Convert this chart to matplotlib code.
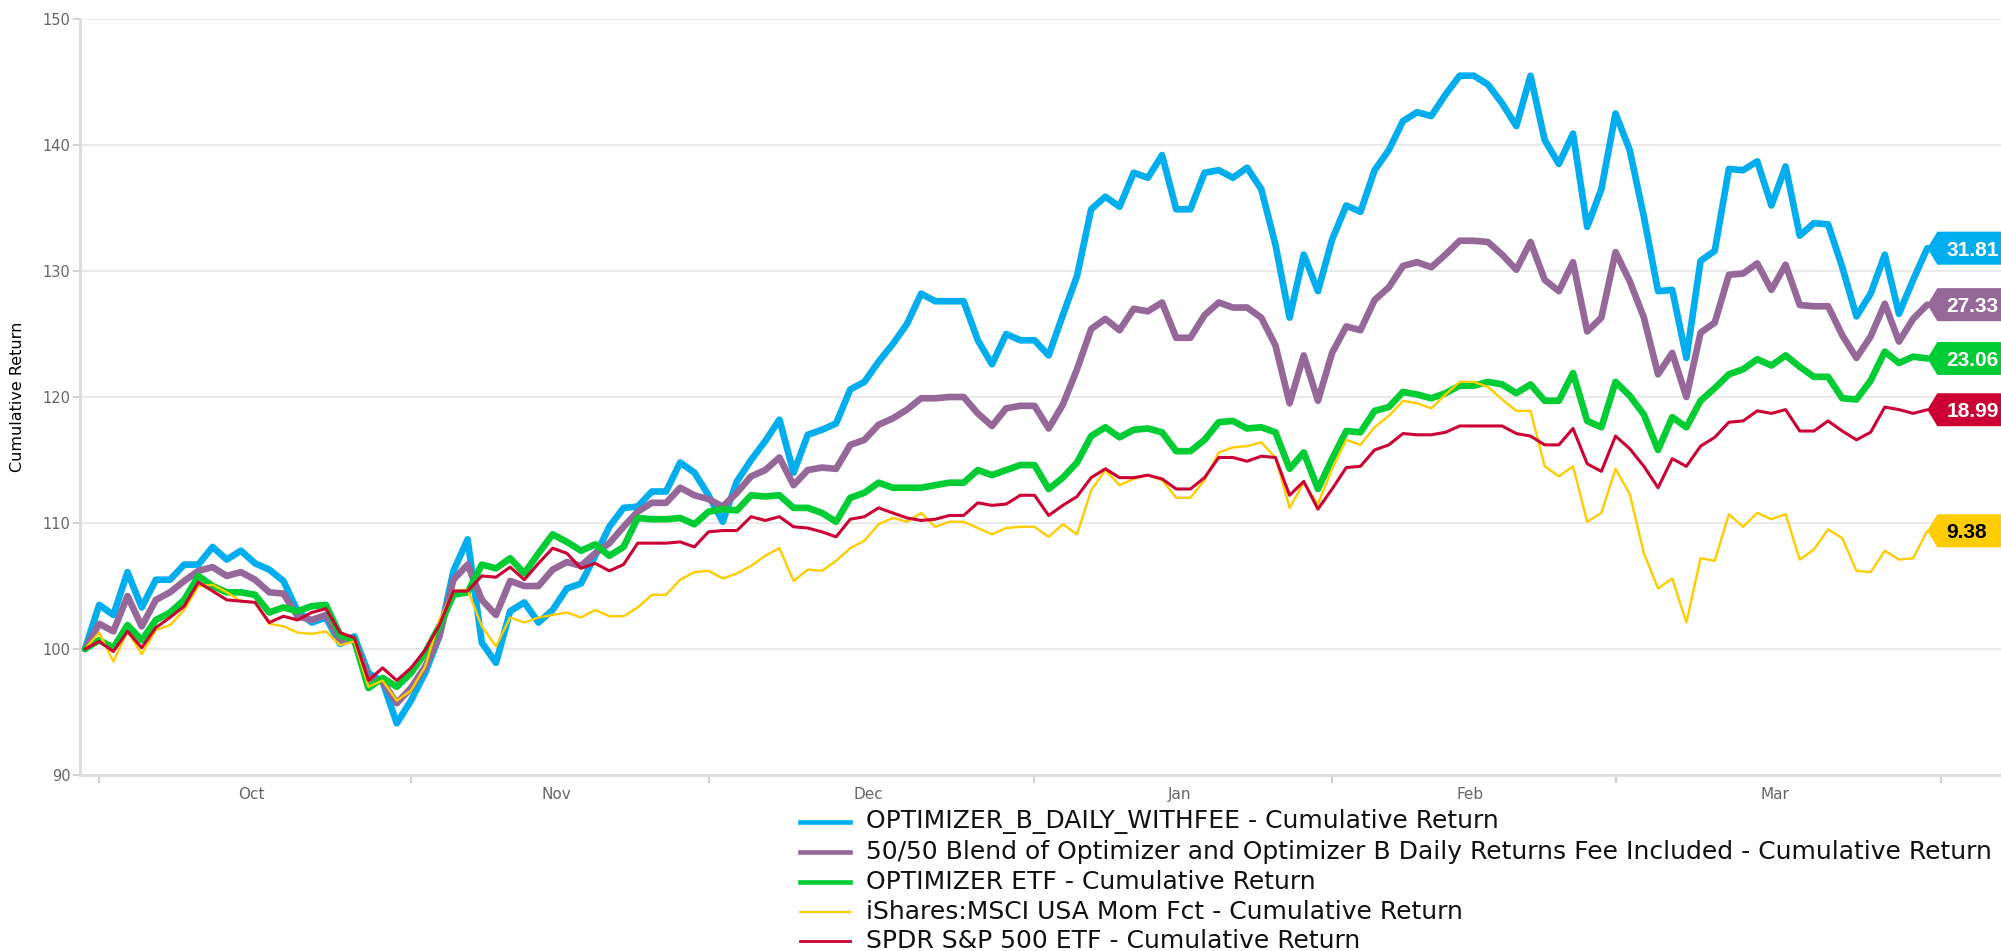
import numpy as np
import matplotlib
matplotlib.use("Agg")
import matplotlib.pyplot as plt
import pandas as pd
from matplotlib.lines import Line2D
from matplotlib.patches import Polygon
from matplotlib.transforms import IdentityTransform
from matplotlib.ticker import NullFormatter

# trading days (weekdays) on an ordinal axis
dates = pd.bdate_range("2020-09-30", "2021-03-31")

optimizer_b = [100.0, 103.5, 102.7, 106.1, 103.3, 105.5, 105.5, 106.7, 106.7, 108.1,
               107.1, 107.8, 106.8, 106.3, 105.4, 103.0, 102.1, 102.5, 100.4, 101.0,
               98.1, 97.4, 94.1, 95.9, 98.1, 101.0, 106.2, 108.7, 100.5, 98.9,
               103.0, 103.7, 102.1, 103.1, 104.8, 105.2, 107.4, 109.7, 111.2, 111.3,
               112.5, 112.5, 114.8, 114.0, 112.2, 110.1, 113.3, 115.0, 116.5, 118.2,
               114.0, 117.0, 117.4, 117.9, 120.6, 121.2, 122.8, 124.2, 125.8, 128.2,
               127.6, 127.6, 127.6, 124.5, 122.6, 125.0, 124.5, 124.5, 123.3, 126.5,
               129.6, 134.9, 135.9, 135.1, 137.8, 137.4, 139.2, 134.9, 134.9, 137.8,
               138.0, 137.4, 138.2, 136.5, 132.1, 126.3, 131.3, 128.4, 132.5, 135.2,
               134.7, 138.0, 139.6, 141.9, 142.6, 142.3, 144.0, 145.5, 145.5, 144.8,
               143.3, 141.5, 145.5, 140.4, 138.5, 140.9, 133.5, 136.5, 142.5, 139.6,
               134.3, 128.4, 128.5, 123.1, 130.8, 131.6, 138.1, 138.0, 138.7, 135.2,
               138.3, 132.8, 133.8, 133.7, 130.3, 126.4, 128.2, 131.3, 126.6, 129.3,
               131.81]

blend = [100.0, 102.0, 101.4, 104.2, 101.8, 103.9, 104.5, 105.4, 106.2, 106.5,
         105.8, 106.1, 105.5, 104.5, 104.4, 102.6, 102.3, 102.7, 100.7, 100.7,
         97.7, 97.4, 95.7, 96.9, 98.6, 101.0, 105.5, 106.7, 103.9, 102.7,
         105.4, 105.0, 105.0, 106.3, 106.9, 106.6, 107.6, 108.4, 109.7, 110.9,
         111.6, 111.6, 112.8, 112.2, 111.9, 111.3, 112.4, 113.7, 114.2, 115.2,
         113.0, 114.2, 114.4, 114.3, 116.2, 116.6, 117.8, 118.3, 119.0, 119.9,
         119.9, 120.0, 120.0, 118.7, 117.7, 119.1, 119.3, 119.3, 117.5, 119.4,
         122.2, 125.4, 126.2, 125.3, 127.0, 126.8, 127.5, 124.7, 124.7, 126.5,
         127.5, 127.1, 127.1, 126.3, 124.1, 119.5, 123.3, 119.7, 123.5, 125.6,
         125.3, 127.7, 128.7, 130.4, 130.7, 130.3, 131.3, 132.4, 132.4, 132.3,
         131.3, 130.1, 132.3, 129.3, 128.4, 130.7, 125.2, 126.3, 131.5, 129.2,
         126.3, 121.8, 123.5, 120.0, 125.1, 125.9, 129.7, 129.8, 130.6, 128.5,
         130.5, 127.3, 127.2, 127.2, 124.9, 123.1, 124.8, 127.4, 124.4, 126.2,
         127.33]

optimizer_etf = [100.0, 100.7, 100.1, 101.9, 100.7, 102.3, 102.9, 103.9, 105.8, 105.0,
                 104.5, 104.5, 104.3, 102.9, 103.3, 103.0, 103.4, 103.5, 101.1, 100.7,
                 96.9, 97.7, 97.0, 98.1, 99.7, 101.8, 104.3, 104.5, 106.7, 106.4,
                 107.2, 106.0, 107.6, 109.1, 108.5, 107.8, 108.3, 107.4, 108.1, 110.4,
                 110.3, 110.3, 110.4, 109.9, 110.9, 111.1, 111.0, 112.2, 112.1, 112.2,
                 111.2, 111.2, 110.8, 110.1, 112.0, 112.4, 113.2, 112.8, 112.8, 112.8,
                 113.0, 113.2, 113.2, 114.2, 113.8, 114.2, 114.6, 114.6, 112.7, 113.6,
                 114.8, 116.9, 117.6, 116.8, 117.4, 117.5, 117.2, 115.7, 115.7, 116.6,
                 118.0, 118.1, 117.5, 117.6, 117.2, 114.3, 115.6, 112.7, 115.1, 117.3,
                 117.2, 118.9, 119.2, 120.4, 120.2, 119.9, 120.3, 120.9, 120.9, 121.2,
                 121.0, 120.3, 121.0, 119.7, 119.7, 121.9, 118.1, 117.6, 121.2, 120.1,
                 118.6, 115.8, 118.4, 117.6, 119.7, 120.7, 121.8, 122.2, 123.0, 122.5,
                 123.3, 122.4, 121.6, 121.6, 119.9, 119.8, 121.3, 123.6, 122.7, 123.2,
                 123.06]

mtum = [100.0, 101.3, 99.0, 101.4, 99.6, 101.5, 101.9, 103.1, 105.0, 105.1,
        104.5, 103.8, 103.7, 102.0, 101.8, 101.3, 101.2, 101.4, 100.3, 100.6,
        97.0, 97.5, 95.9, 96.7, 98.6, 102.3, 104.6, 104.7, 101.8, 100.2,
        102.5, 102.1, 102.5, 102.7, 102.9, 102.5, 103.1, 102.6, 102.6, 103.3,
        104.3, 104.3, 105.5, 106.1, 106.2, 105.6, 106.0, 106.6, 107.4, 108.0,
        105.4, 106.3, 106.2, 107.0, 108.0, 108.6, 109.9, 110.4, 110.1, 110.8,
        109.7, 110.1, 110.1, 109.6, 109.1, 109.6, 109.7, 109.7, 108.9, 109.9,
        109.1, 112.6, 114.2, 113.0, 113.5, 113.8, 113.4, 112.0, 112.0, 113.4,
        115.6, 116.0, 116.1, 116.4, 115.2, 111.2, 113.2, 111.5, 114.3, 116.6,
        116.2, 117.6, 118.5, 119.7, 119.5, 119.1, 120.2, 121.2, 121.2, 120.8,
        119.8, 118.9, 118.9, 114.5, 113.7, 114.5, 110.1, 110.8, 114.3, 112.3,
        107.6, 104.8, 105.6, 102.1, 107.2, 107.0, 110.7, 109.7, 110.8, 110.3,
        110.7, 107.1, 107.9, 109.5, 108.8, 106.2, 106.1, 107.8, 107.1, 107.2,
        109.38]

spy = [100.0, 100.6, 99.8, 101.4, 100.1, 101.7, 102.5, 103.4, 105.3, 104.6,
       103.9, 103.8, 103.7, 102.1, 102.6, 102.3, 102.9, 103.2, 101.3, 100.9,
       97.5, 98.5, 97.5, 98.5, 99.9, 101.9, 104.6, 104.6, 105.8, 105.7,
       106.5, 105.5, 106.8, 108.0, 107.6, 106.4, 106.8, 106.2, 106.7, 108.4,
       108.4, 108.4, 108.5, 108.1, 109.3, 109.4, 109.4, 110.5, 110.2, 110.5,
       109.7, 109.6, 109.3, 108.9, 110.3, 110.5, 111.2, 110.8, 110.4, 110.2,
       110.3, 110.6, 110.6, 111.6, 111.4, 111.5, 112.2, 112.2, 110.6, 111.4,
       112.1, 113.6, 114.3, 113.6, 113.6, 113.8, 113.5, 112.7, 112.7, 113.6,
       115.2, 115.2, 114.9, 115.3, 115.2, 112.2, 113.3, 111.1, 112.7, 114.4,
       114.5, 115.8, 116.2, 117.1, 117.0, 117.0, 117.2, 117.7, 117.7, 117.7,
       117.7, 117.1, 116.9, 116.2, 116.2, 117.5, 114.7, 114.1, 116.9, 115.9,
       114.5, 112.8, 115.1, 114.5, 116.1, 116.8, 118.0, 118.1, 118.9, 118.7,
       119.0, 117.3, 117.3, 118.1, 117.3, 116.6, 117.2, 119.2, 119.0, 118.7,
       118.99]

names = ["OPTIMIZER_B_DAILY_WITHFEE - Cumulative Return",
         "50/50 Blend of Optimizer and Optimizer B Daily Returns Fee Included - Cumulative Return",
         "OPTIMIZER ETF - Cumulative Return",
         "iShares:MSCI USA Mom Fct - Cumulative Return",
         "SPDR S&P 500 ETF - Cumulative Return"]
series = [optimizer_b, blend, optimizer_etf, mtum, spy]
colors = ["#00AEEF", "#96689A", "#00CC33", "#FFCC00", "#CC0033"]
widths = [4.8, 4.8, 4.8, 1.7, 2.2]
label_text = ["white", "white", "white", "black", "white"]

W, H = 2001, 951
fig = plt.figure(figsize=(W / 100, H / 100), dpi=100)
ax = fig.add_axes([80 / W, 176 / H, (W - 80) / W, 756 / H])

x = np.arange(len(dates))
for vals, col, lw in zip(series, colors, widths):
    ax.plot(x, vals, color=col, lw=lw, solid_joinstyle="round",
            solid_capstyle="round", zorder=3)

ax.set_xlim(-0.353, 135.2)
ax.set_ylim(90, 150)

# axes look
for side in ["top", "right"]:
    ax.spines[side].set_visible(False)
for side in ["left", "bottom"]:
    ax.spines[side].set_color("#dcdcdc")
    ax.spines[side].set_linewidth(2.0)
ax.set_yticks(np.arange(90, 151, 10))
ax.yaxis.grid(True, color="#e6e6e6", lw=1.2)
ax.set_axisbelow(True)
ax.tick_params(axis="y", length=5, width=1.2, color="#cccccc",
               labelsize=10.5, labelcolor="#666666", pad=2)

# month ticks at the first trading day of each month, labels in between
starts = [i for i in range(1, len(dates)) if dates[i].month != dates[i - 1].month]
edges = starts + [len(dates)]
mids = [(a + b) / 2 - 0.25 for a, b in zip(edges[:-1], edges[1:])]
ax.set_xticks(edges)
ax.xaxis.set_major_formatter(NullFormatter())
ax.tick_params(axis="x", which="major", length=6, width=1.3, color="#cccccc")
ax.set_xticks(mids, minor=True)
ax.set_xticklabels([dates[i].strftime("%b") for i in starts], minor=True)
ax.tick_params(axis="x", which="minor", length=0, pad=8.6,
               labelsize=11, labelcolor="#666666")

fig.text(18 / W, 1 - 397 / H, "Cumulative Return", rotation=90,
         ha="center", va="center", fontsize=11.5, color="black")

# end-of-line value labels (callout boxes)
for vals, col, tc in zip(series, colors, label_text):
    px, py = ax.transData.transform((len(vals) - 1, vals[-1]))
    hh = 16.5
    box = Polygon([(px, py), (px + 10, py + hh), (px + 120, py + hh),
                   (px + 120, py - hh), (px + 10, py - hh)],
                  closed=True, facecolor=col, edgecolor="none",
                  transform=IdentityTransform(), zorder=5, clip_on=False)
    ax.add_artist(box)
    ax.annotate("{:.2f}".format(vals[-1] - 100), xy=(len(vals) - 1, vals[-1]),
                xytext=(13.7, -5.4), textcoords="offset points",
                ha="left", va="baseline", fontsize=15, fontweight="bold",
                family="Liberation Sans", color=tc, zorder=6,
                annotation_clip=False)

# legend below the chart
rows = [822, 852, 882, 912, 941]
leg_w = [3.3, 3.3, 3.3, 1.6, 2.0]
for name, col, lw, y in zip(names, colors, leg_w, rows):
    fy = 1 - y / H
    fig.add_artist(Line2D([800 / W, 850 / W], [fy, fy], color=col, lw=lw))
    fig.text(866 / W, fy, name, ha="left", va="center", fontsize=18, color="#111111")

fig.savefig("out.png", dpi=100)
